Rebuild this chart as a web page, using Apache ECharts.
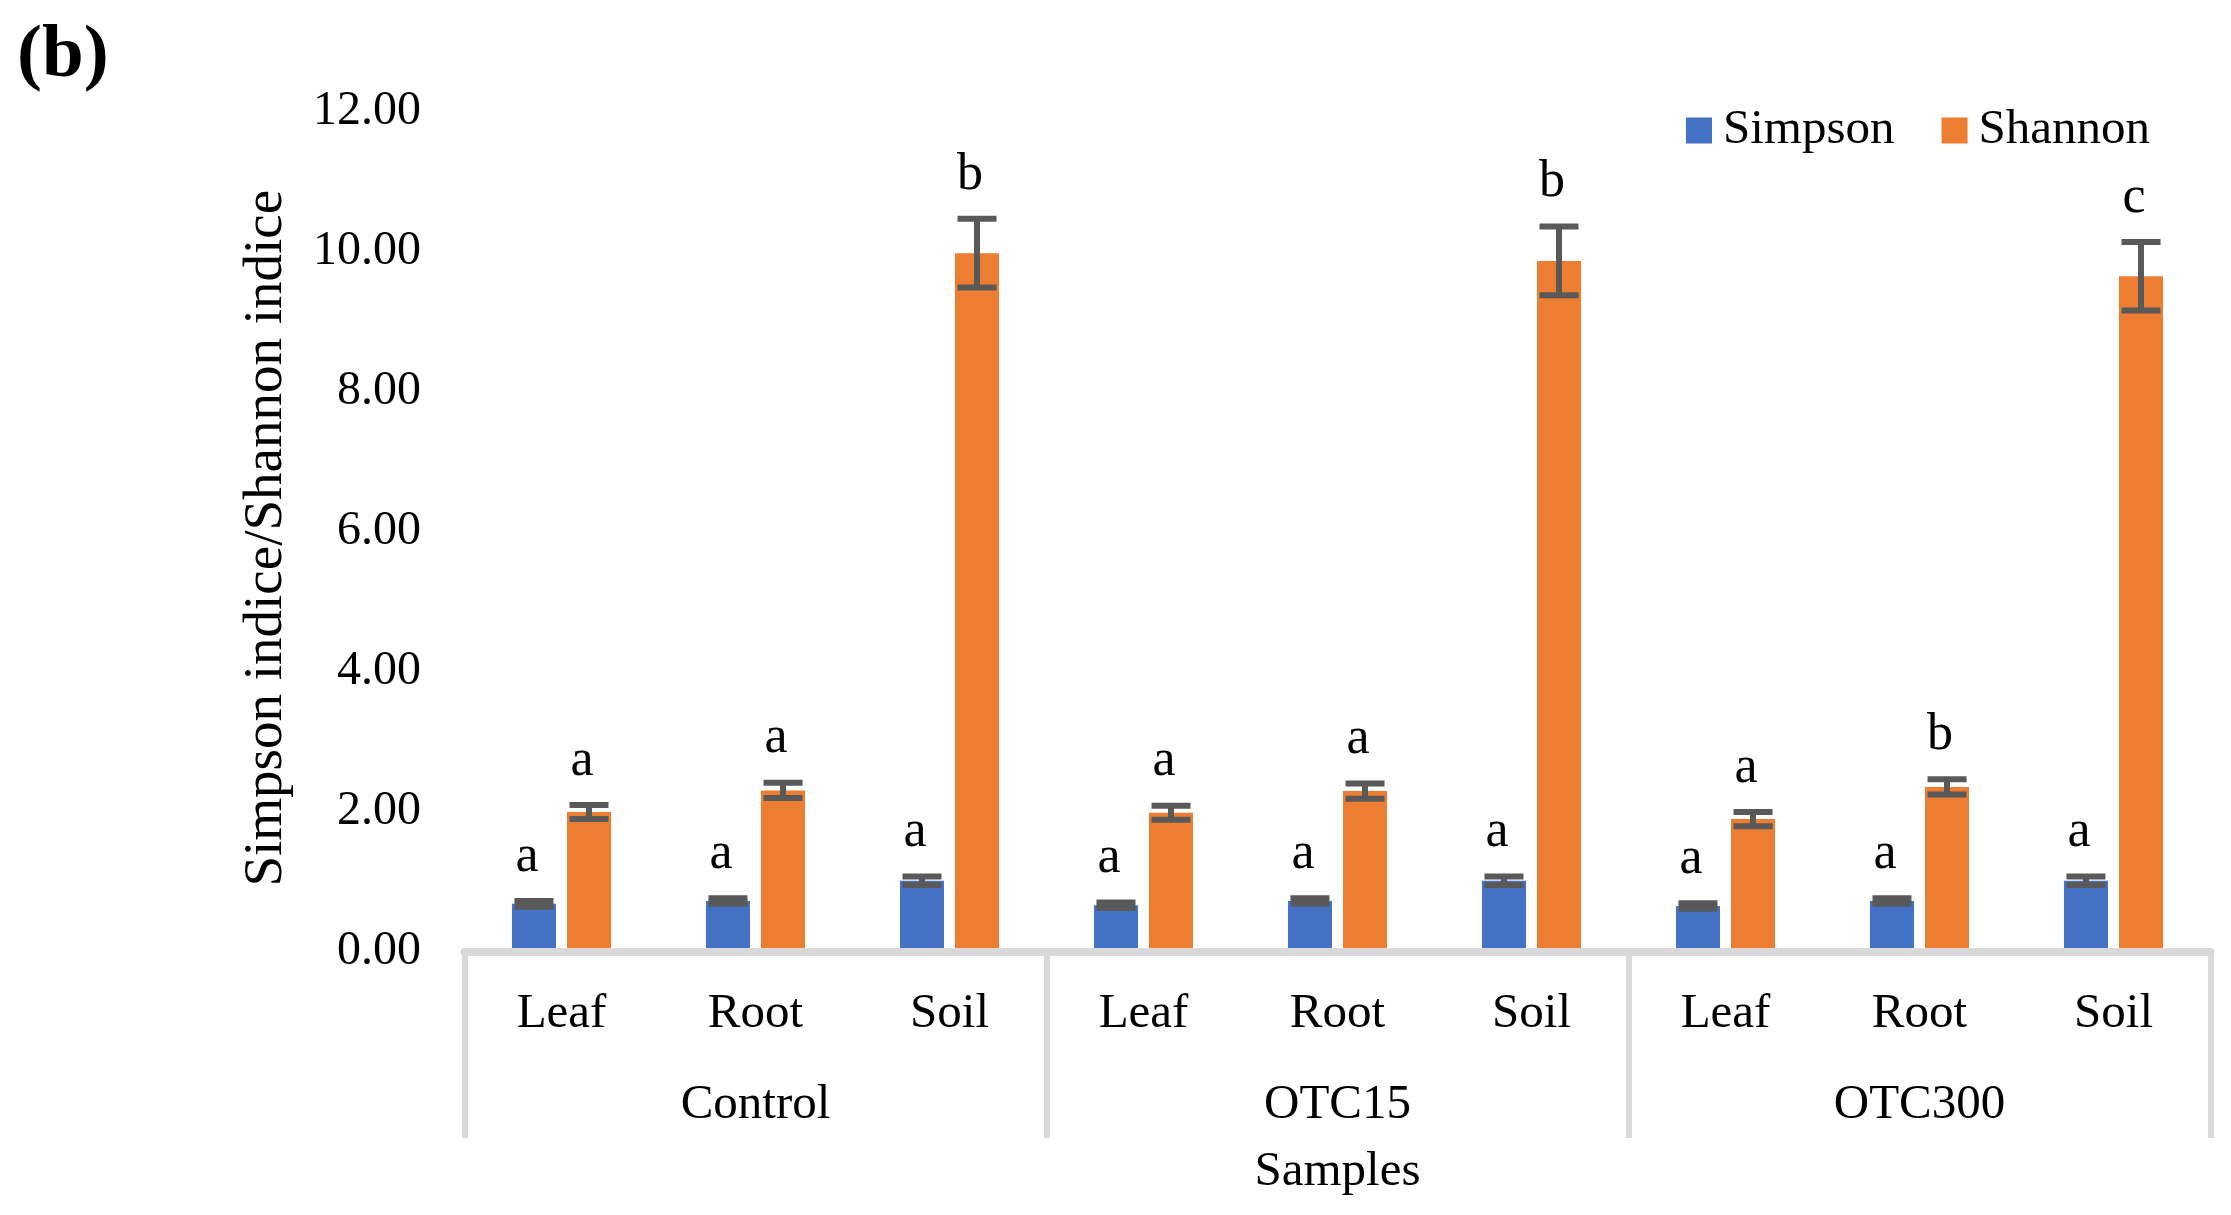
<!DOCTYPE html>
<html>
<head>
<meta charset="utf-8">
<script src="https://cdn.jsdelivr.net/npm/echarts@6.0.0/dist/echarts.min.js"></script>
<style>
  html, body { margin: 0; padding: 0; background: #fff; }
  #chart { width: 2231px; height: 1215px; }
</style>
</head>
<body>
<div id="chart"></div>
<script>
// treatments (outer axis level) and samples (inner level)
const groups = ['Control', 'OTC15', 'OTC300'];
const samples = ['Leaf', 'Root', 'Soil', 'Leaf', 'Root', 'Soil', 'Leaf', 'Root', 'Soil'];

const simpson = [0.68, 0.72, 1.01, 0.66, 0.72, 1.01, 0.65, 0.72, 1.01];
const simpsonErr = [0.04, 0.04, 0.06, 0.04, 0.04, 0.06, 0.04, 0.04, 0.06];
const simpsonLetters = ['a', 'a', 'a', 'a', 'a', 'a', 'a', 'a', 'a'];

const shannon = [1.99, 2.30, 9.97, 1.98, 2.29, 9.86, 1.89, 2.35, 9.64];
const shannonErr = [0.10, 0.11, 0.49, 0.10, 0.11, 0.49, 0.10, 0.11, 0.49];
const shannonLetters = ['a', 'a', 'b', 'a', 'a', 'b', 'a', 'b', 'c'];

const yTicks = [0, 2, 4, 6, 8, 10, 12];

const FONT = 'Liberation Serif';
const BAR_W = 0.227;   // share of a category band
const BAR_GAP = 0.25;  // share of a bar width

// error bars + significance letters, one item per bar
var errItems = [];
simpson.forEach(function (v, i) {
    errItems.push({ value: [i, v, simpsonErr[i]], side: -1, letter: simpsonLetters[i] });
});
shannon.forEach(function (v, i) {
    errItems.push({ value: [i, v, shannonErr[i]], side: 1, letter: shannonLetters[i] });
});

function renderErr(params, api) {
    var item = errItems[params.dataIndex];
    var i = api.value(0), v = api.value(1), e = api.value(2);
    var band = api.size([1, 0])[0];
    var bw = band * BAR_W;
    var dx = item.side * (bw + bw * BAR_GAP) / 2;
    var top = api.coord([i, v + e]);
    var bot = api.coord([i, v - e]);
    var x = top[0] + dx;
    var half = 19.5;
    var ls = { stroke: '#595959', lineWidth: 6 };
    return {
        type: 'group',
        children: [
            { type: 'line', shape: { x1: x, y1: top[1], x2: x, y2: bot[1] }, style: ls },
            { type: 'line', shape: { x1: x - half, y1: top[1], x2: x + half, y2: top[1] }, style: ls },
            { type: 'line', shape: { x1: x - half, y1: bot[1], x2: x + half, y2: bot[1] }, style: ls },
            {
                type: 'text',
                style: {
                    text: item.letter, x: x - 7, y: top[1] - 18,
                    align: 'center', verticalAlign: 'bottom',
                    font: '52px "' + FONT + '"', lineHeight: 52, fill: '#000'
                }
            }
        ]
    };
}

var option = {
    animation: false,
    backgroundColor: '#fff',
    textStyle: { fontFamily: FONT, color: '#000' },
    title: {
        text: '(b)',
        left: 12,
        top: 14,
        textStyle: { fontFamily: FONT, fontSize: 75, lineHeight: 75, fontWeight: 'bold', color: '#000' }
    },
    legend: {
        data: ['Simpson', 'Shannon'],
        left: 1681,
        top: 101,
        itemWidth: 26,
        itemHeight: 26,
        itemGap: 47,
        icon: 'rect',
        textStyle: { fontFamily: FONT, fontSize: 49, color: '#000', padding: [0, 0, 0, 6] }
    },
    grid: {
        left: 464.5,
        right: 20.5,
        top: 111,
        bottom: 263.5,
        outerBoundsMode: 'none'
    },
    xAxis: [{
        type: 'category',
        data: samples,
        position: 'bottom',
        z: 5,
        axisLine: { onZero: false, lineStyle: { color: '#D9D9D9', width: 8 } },
        axisTick: { show: false },
        axisLabel: { interval: 0, margin: 38, fontFamily: FONT, fontSize: 49, lineHeight: 49, color: '#000' },
        name: 'Samples',
        nameLocation: 'middle',
        nameGap: 196,
        nameTextStyle: { fontFamily: FONT, fontSize: 49, lineHeight: 49, color: '#000' }
    }, {
        type: 'category',
        data: groups,
        position: 'bottom',
        z: 5,
        axisLine: { show: false, onZero: false },
        axisTick: { show: true, interval: 0, length: 186.5, lineStyle: { color: '#D9D9D9', width: 6 } },
        axisLabel: { interval: 0, margin: 129, fontFamily: FONT, fontSize: 49, lineHeight: 49, color: '#000' }
    }],
    yAxis: {
        type: 'value',
        min: yTicks[0],
        max: yTicks[yTicks.length - 1],
        interval: yTicks[1] - yTicks[0],
        axisLine: { show: false },
        axisTick: { show: false },
        splitLine: { show: false },
        axisLabel: {
            margin: 43.5, fontFamily: FONT, fontSize: 48, color: '#000',
            formatter: function (v) { return v.toFixed(2); }
        },
        name: 'Simpson indice/Shannon indice',
        nameLocation: 'middle',
        nameGap: 170,
        nameRotate: 90,
        nameTextStyle: { fontFamily: FONT, fontSize: 55, lineHeight: 55, color: '#000', padding: [0, 14, 0, 0] }
    },
    series: [{
        name: 'Simpson',
        type: 'bar',
        data: simpson,
        barWidth: (BAR_W * 100) + '%',
        barGap: (BAR_GAP * 100) + '%',
        itemStyle: { color: '#4472C4' }
    }, {
        name: 'Shannon',
        type: 'bar',
        data: shannon,
        barWidth: (BAR_W * 100) + '%',
        barGap: (BAR_GAP * 100) + '%',
        itemStyle: { color: '#ED7D31' }
    }, {
        name: 'err',
        type: 'custom',
        renderItem: renderErr,
        data: errItems.map(function (d) { return d.value; }),
        encode: { x: 0, y: 1 },
        z: 4,
        clip: false
    }]
};

var chart = echarts.init(document.getElementById('chart'));
chart.setOption(option);
</script>
</body>
</html>
